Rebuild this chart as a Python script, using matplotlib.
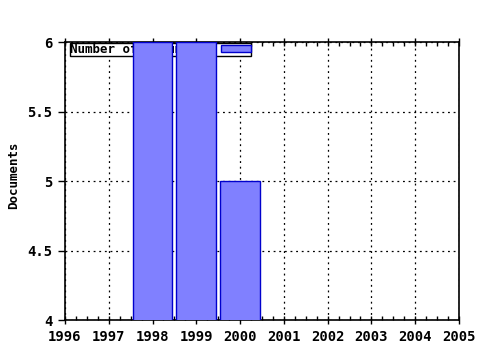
import matplotlib
matplotlib.use('Agg')
import matplotlib.pyplot as plt
from matplotlib.ticker import MultipleLocator

years = [1998, 1999, 2000]
documents = [6, 6, 5]
series_label = 'Number of documents'
xticks = list(range(1996, 2006))
yticks = [4, 4.5, 5, 5.5, 6]

plt.rcParams['font.family'] = 'DejaVu Sans Mono'
plt.rcParams['font.weight'] = 'bold'
plt.rcParams['font.size'] = 10

fig = plt.figure(figsize=(4.8, 3.5), dpi=100)
ax = fig.add_axes([0.1354, 0.0857, 0.8208, 0.7943])

ax.bar(years, documents, width=0.91, color='#8080ff', edgecolor='#0000cc',
       linewidth=1, label=series_label, zorder=3)

ax.set_xlim(1996, 2005)
ax.set_ylim(4, 6)
ax.set_xticks(xticks)
ax.set_yticks(yticks)
ax.set_yticklabels(['4', '4.5', '5', '5.5', '6'])
ax.xaxis.set_minor_locator(MultipleLocator(0.25))
ax.grid(True, linestyle=(0, (1.5, 3)), color='black', linewidth=0.9, zorder=1)
ax.tick_params(axis='x', which='major', direction='inout', length=6, top=True, width=1, pad=4)
ax.tick_params(axis='x', which='minor', direction='in', length=3, top=True, width=1)
ax.tick_params(axis='y', which='major', direction='out', length=5, width=1, pad=4)
fig.text(14 / 480, 0.5, 'Documents', rotation=90, ha='center', va='center', fontsize=9)
for s in ax.spines.values():
    s.set_linewidth(1.2)

leg = ax.legend(loc='upper left', bbox_to_anchor=(0.012, 0.997), frameon=True,
                fancybox=False, edgecolor='black', framealpha=1,
                handlelength=2.4, handleheight=0.5, borderpad=0.0,
                borderaxespad=0, markerfirst=False, handletextpad=0.7,
                fontsize=9)
leg.get_frame().set_linewidth(1)
leg.set_zorder(2)

fig.savefig('out.png', dpi=100)
